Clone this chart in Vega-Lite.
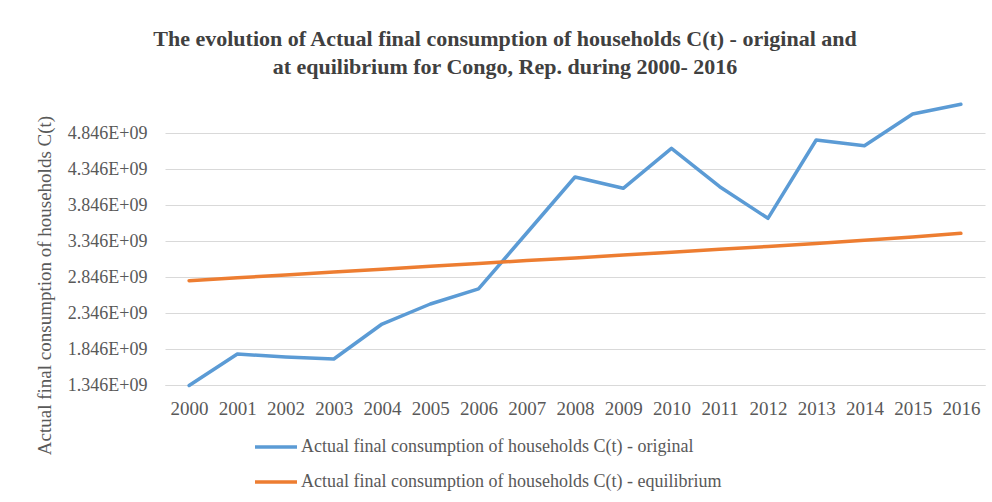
{
  "$schema": "https://vega.github.io/schema/vega-lite/v6.json",
  "autosize": {"type": "none"},
  "width": 820,
  "height": 288,
  "padding": {"left": 165, "top": 97, "right": 7, "bottom": 117},
  "background": "white",
  "config": {"view": {"stroke": null}},
  "title": {
    "text": ["The evolution of Actual  final consumption  of households C(t) - original  and", "at equilibrium  for Congo, Rep. during   2000- 2016"],
    "font": "Liberation Serif",
    "fontSize": 22,
    "fontWeight": "bold",
    "color": "#404040",
    "anchor": "middle",
    "frame": "group",
    "dx": -70,
    "offset": 18,
    "lineHeight": 28
  },
  "data": {
    "values": [
      {"year": "2000", "series": "Actual final consumption of households C(t) - original", "value": 1340000000},
      {"year": "2001", "series": "Actual final consumption of households C(t) - original", "value": 1776000000},
      {"year": "2002", "series": "Actual final consumption of households C(t) - original", "value": 1735000000},
      {"year": "2003", "series": "Actual final consumption of households C(t) - original", "value": 1707000000},
      {"year": "2004", "series": "Actual final consumption of households C(t) - original", "value": 2193000000},
      {"year": "2005", "series": "Actual final consumption of households C(t) - original", "value": 2471000000},
      {"year": "2006", "series": "Actual final consumption of households C(t) - original", "value": 2680000000},
      {"year": "2007", "series": "Actual final consumption of households C(t) - original", "value": 3457000000},
      {"year": "2008", "series": "Actual final consumption of households C(t) - original", "value": 4235000000},
      {"year": "2009", "series": "Actual final consumption of households C(t) - original", "value": 4078000000},
      {"year": "2010", "series": "Actual final consumption of households C(t) - original", "value": 4633000000},
      {"year": "2011", "series": "Actual final consumption of households C(t) - original", "value": 4100000000},
      {"year": "2012", "series": "Actual final consumption of households C(t) - original", "value": 3661000000},
      {"year": "2013", "series": "Actual final consumption of households C(t) - original", "value": 4749000000},
      {"year": "2014", "series": "Actual final consumption of households C(t) - original", "value": 4670000000},
      {"year": "2015", "series": "Actual final consumption of households C(t) - original", "value": 5110000000},
      {"year": "2016", "series": "Actual final consumption of households C(t) - original", "value": 5245000000},
      {"year": "2000", "series": "Actual final consumption of households C(t) - equilibrium", "value": 2795000000},
      {"year": "2001", "series": "Actual final consumption of households C(t) - equilibrium", "value": 2835000000},
      {"year": "2002", "series": "Actual final consumption of households C(t) - equilibrium", "value": 2875000000},
      {"year": "2003", "series": "Actual final consumption of households C(t) - equilibrium", "value": 2915000000},
      {"year": "2004", "series": "Actual final consumption of households C(t) - equilibrium", "value": 2955000000},
      {"year": "2005", "series": "Actual final consumption of households C(t) - equilibrium", "value": 2995000000},
      {"year": "2006", "series": "Actual final consumption of households C(t) - equilibrium", "value": 3035000000},
      {"year": "2007", "series": "Actual final consumption of households C(t) - equilibrium", "value": 3075000000},
      {"year": "2008", "series": "Actual final consumption of households C(t) - equilibrium", "value": 3110000000},
      {"year": "2009", "series": "Actual final consumption of households C(t) - equilibrium", "value": 3150000000},
      {"year": "2010", "series": "Actual final consumption of households C(t) - equilibrium", "value": 3190000000},
      {"year": "2011", "series": "Actual final consumption of households C(t) - equilibrium", "value": 3230000000},
      {"year": "2012", "series": "Actual final consumption of households C(t) - equilibrium", "value": 3270000000},
      {"year": "2013", "series": "Actual final consumption of households C(t) - equilibrium", "value": 3310000000},
      {"year": "2014", "series": "Actual final consumption of households C(t) - equilibrium", "value": 3355000000},
      {"year": "2015", "series": "Actual final consumption of households C(t) - equilibrium", "value": 3400000000},
      {"year": "2016", "series": "Actual final consumption of households C(t) - equilibrium", "value": 3453000000}
    ]
  },
  "mark": {"type": "line", "strokeWidth": 3.5, "strokeCap": "round", "strokeJoin": "round"},
  "encoding": {
    "x": {
      "field": "year",
      "type": "ordinal",
      "scale": {"type": "point", "padding": 0.5},
      "axis": {
        "title": null,
        "labelAngle": 0,
        "labelFont": "Liberation Serif",
        "labelFontSize": 19,
        "labelColor": "#595959",
        "labelPadding": 14,
        "ticks": false,
        "grid": false,
        "domainColor": "#D9D9D9",
        "domainWidth": 1
      }
    },
    "y": {
      "field": "value",
      "type": "quantitative",
      "scale": {"domain": [1346000000, 5346000000], "nice": false, "zero": false},
      "axis": {
        "values": [1346000000, 1846000000, 2346000000, 2846000000, 3346000000, 3846000000, 4346000000, 4846000000],
        "labelExpr": "format(datum.value / 1e9, '.3f') + 'E+09'",
        "labelFont": "Liberation Serif",
        "labelFontSize": 18,
        "labelColor": "#595959",
        "labelPadding": 18,
        "ticks": false,
        "domain": false,
        "gridColor": "#D9D9D9",
        "gridWidth": 1,
        "title": "Actual final  consumption of households C(t)",
        "titleFont": "Liberation Serif",
        "titleFontSize": 19,
        "titleFontWeight": "normal",
        "titleColor": "#595959",
        "titleX": -121,
        "titleY": 188,
        "titleAngle": -90,
        "titleAlign": "center",
        "titleBaseline": "middle"
      }
    },
    "color": {
      "field": "series",
      "type": "nominal",
      "sort": ["Actual final consumption of households C(t) - original", "Actual final consumption of households C(t) - equilibrium"],
      "scale": {
        "domain": ["Actual final consumption of households C(t) - original", "Actual final consumption of households C(t) - equilibrium"],
        "range": ["#5B9BD5", "#ED7D31"]
      },
      "legend": {
        "title": null,
        "orient": "none",
        "legendX": 88,
        "legendY": 340,
        "direction": "vertical",
        "symbolType": "stroke",
        "symbolSize": 1764,
        "symbolStrokeWidth": 3.5,
        "clipHeight": 20,
        "rowPadding": 15,
        "labelOffset": 2,
        "labelFont": "Liberation Serif",
        "labelFontSize": 18,
        "labelColor": "#595959",
        "labelLimit": 600
      }
    }
  }
}
